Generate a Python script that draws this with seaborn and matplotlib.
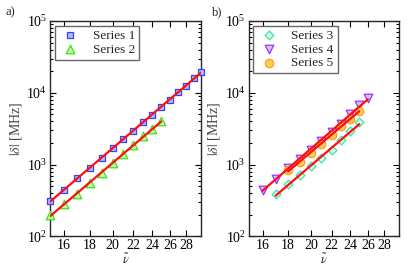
import numpy as np
import pandas as pd
import matplotlib
matplotlib.use("Agg")
import matplotlib.pyplot as plt
import matplotlib.ticker as mticker
import seaborn as sns

# ---- data ----
x1 = [15, 16, 17, 18, 19, 20, 21, 22, 23, 24, 25, 26, 27, 28, 29, 30]
y1 = [310, 450, 645, 910, 1240, 1680, 2300, 2960, 3870, 4940, 6390, 8070, 10240, 12600, 15900, 19500]
x2 = [15, 16, 17, 18, 19, 20, 21, 22, 23, 24, 25]
y2 = [198, 281, 395, 557, 768, 1042, 1420, 1900, 2470, 3130, 4000]
x3 = [17, 18, 19, 20, 21, 22, 23, 24, 25]
y3 = [385, 530, 720, 950, 1230, 1620, 2180, 2940, 3930]
x4 = [16, 17, 18, 19, 20, 21, 22, 23, 24, 25, 26]
y4 = [448, 638, 897, 1213, 1620, 2130, 2850, 3730, 5000, 6710, 8590]
x5 = [18, 19, 20, 21, 22, 23, 24, 25]
y5 = [832, 1087, 1452, 1963, 2620, 3420, 4370, 5600]

names = ["Series 1", "Series 2", "Series 3", "Series 4", "Series 5"]
xticks = [16, 18, 20, 22, 24, 26, 28]
yticks = [1e2, 1e3, 1e4, 1e5]

sns.set_style("ticks")
plt.rcParams["font.family"] = ["Liberation Serif", "DejaVu Serif"]
plt.rcParams["mathtext.fontset"] = "stix"
plt.rcParams["xtick.direction"] = "in"
plt.rcParams["ytick.direction"] = "in"

fig = plt.figure(figsize=(4.07, 2.66), dpi=100)
axL = fig.add_axes([0.1229, 0.111, 0.3710, 0.810])
axR = fig.add_axes([0.6106, 0.111, 0.3694, 0.810])

styles = {
    "Series 1": dict(marker="s", fc="#b0b8ff", ec="#3344ff"),
    "Series 2": dict(marker="^", fc="#b8ff9a", ec="#44dd22"),
    "Series 3": dict(marker="D", fc="#ccffe8", ec="#44e0a8"),
    "Series 4": dict(marker="v", fc="#d8c0ff", ec="#9933ff"),
    "Series 5": dict(marker="o", fc="#ffd050", ec="#ff9a20"),
}
sizes = {"Series 1": 24, "Series 2": 38, "Series 3": 20, "Series 4": 38, "Series 5": 36}

def draw(ax, xs, ys, name):
    st = styles[name]
    df = pd.DataFrame({"x": xs, "y": ys})
    sns.scatterplot(data=df, x="x", y="y", ax=ax, marker=st["marker"], s=sizes[name],
                    facecolor=st["fc"], edgecolor=st["ec"], linewidth=0.9,
                    label=name, zorder=3, clip_on=False)

def fit(ax, xs, ys):
    lx, ly = np.log10(xs), np.log10(ys)
    k, b = np.polyfit(lx, ly, 1)
    xe = np.array([min(xs), max(xs)], dtype=float)
    fdf = pd.DataFrame({"x": xe, "y": 10 ** (k * np.log10(xe) + b)})
    sns.lineplot(data=fdf, x="x", y="y", ax=ax, color="#ff1010", linewidth=1.6,
                 zorder=4, legend=False)

draw(axL, x1, y1, names[0])
draw(axL, x2, y2, names[1])
fit(axL, x1, y1)
fit(axL, x2, y2)

draw(axR, x3, y3, names[2])
draw(axR, x4, y4, names[3])
draw(axR, x5, y5, names[4])
fit(axR, x3, y3)
fit(axR, x4, y4)
fit(axR, x5, y5)

for ax, lab in [(axL, "a)"), (axR, "b)")]:
    ax.set_xscale("log")
    ax.set_yscale("log")
    ax.set_xlim(15, 30)
    ax.set_ylim(1e2, 1e5)
    ax.xaxis.set_major_locator(mticker.FixedLocator(xticks))
    ax.xaxis.set_major_formatter(mticker.FixedFormatter([str(t) for t in xticks]))
    ax.xaxis.set_minor_locator(mticker.NullLocator())
    ax.yaxis.set_major_locator(mticker.FixedLocator(yticks))
    ax.yaxis.set_major_formatter(mticker.LogFormatterMathtext())
    ax.yaxis.set_minor_locator(mticker.LogLocator(base=10, subs=np.arange(2, 10)))
    ax.yaxis.set_minor_formatter(mticker.NullFormatter())
    ax.tick_params(which="both", top=True, right=True, direction="in",
                   labelsize=10, width=0.8, colors="black")
    ax.tick_params(which="major", length=4.5, pad=2)
    ax.tick_params(which="minor", length=2.2)
    for sp in ax.spines.values():
        sp.set_linewidth(1.0)
        sp.set_visible(True)
    ax.set_xlabel(r"$\tilde{\nu}$", fontsize=9, labelpad=0)
    ax.set_ylabel(r"$|\delta|$ [MHz]", fontsize=10, labelpad=2, color="#444444")
    leg = ax.legend(loc="upper left", frameon=True, fancybox=False, fontsize=9.5,
                    edgecolor="#666666", framealpha=1, borderaxespad=0.35,
                    handletextpad=0.8, borderpad=0.3, labelspacing=0.12,
                    handlelength=1.8)
    leg.get_frame().set_linewidth(1.0)
    ax.grid(False)

fig.text(5 / 407, 1 - 12 / 266, "a)", fontsize=9, va="center", ha="left")
fig.text(212 / 407, 1 - 12 / 266, "b)", fontsize=9, va="center", ha="left")

fig.savefig("out.png", dpi=100)
